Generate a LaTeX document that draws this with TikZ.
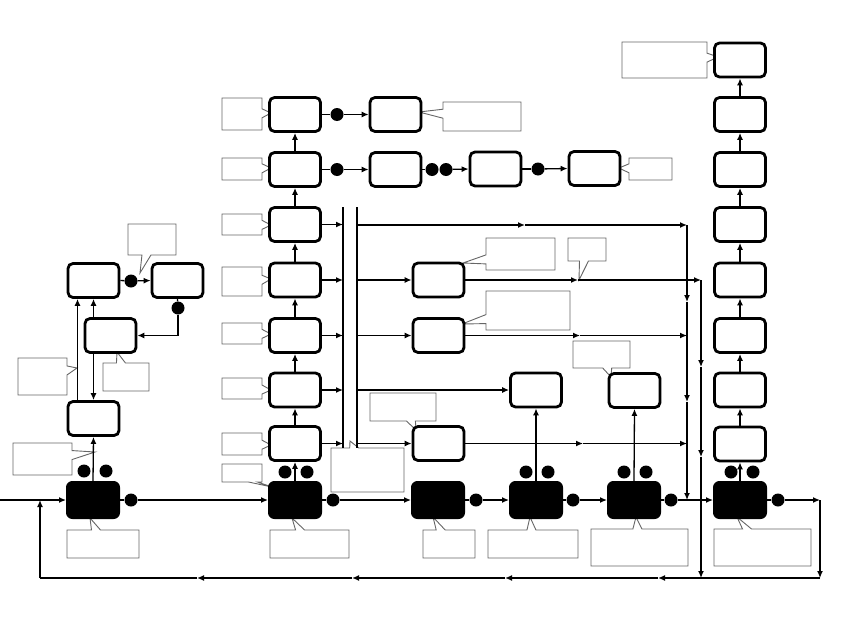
\documentclass[tikz,border=0pt]{standalone}
\usetikzlibrary{arrows.meta,shapes.callouts}
\begin{document}
\begin{tikzpicture}[x=1pt,y=-1pt,
 wbox/.style={draw, line width=2.8pt, rounded corners=5pt, fill=white, minimum width=51pt, minimum height=34pt, inner sep=0pt},
 bbox/.style={draw, line width=1pt, rounded corners=6pt, fill=black, minimum width=53pt, minimum height=37pt, inner sep=0pt},
 dot/.style={circle, fill=black, minimum size=13pt, inner sep=0pt},
 cl/.style={rectangle callout, draw=black!60, line width=0.9pt, fill=white, inner sep=0pt, callout pointer width=9pt},
 arr/.style={-{Latex[length=7pt,width=6pt]}, line width=1.3pt},
 ln/.style={line width=1.3pt}]
\useasboundingbox (0,0) rectangle (854,629);

% ---------- callouts ----------
\node[cl, minimum width=48pt, minimum height=31pt, callout absolute pointer={(140,273)}] (c1) at (152,239.5) {};
\node[cl, minimum width=49pt, minimum height=37pt, callout absolute pointer={(77,368)}] (c2) at (42.5,376.5) {};
\node[cl, minimum width=46pt, minimum height=28pt, callout absolute pointer={(117,352)}] (c3) at (126,377) {};
\node[cl, minimum width=59pt, minimum height=32pt, callout absolute pointer={(95,452)}] (c4) at (42.5,459) {};
\node[cl, minimum width=72pt, minimum height=28pt, callout absolute pointer={(90,518)}] (c5) at (103,544) {};
\node[cl, minimum width=40pt, minimum height=32pt, callout absolute pointer={(271,113)}] (cr1) at (242,114) {};
\node[cl, minimum width=40pt, minimum height=22pt, callout absolute pointer={(271,168)}] (cr2) at (242,169) {};
\node[cl, minimum width=40pt, minimum height=21pt, callout absolute pointer={(271,225)}] (cr3) at (242,224.5) {};
\node[cl, minimum width=40pt, minimum height=29pt, callout absolute pointer={(271,279)}] (cr4) at (242,281.5) {};
\node[cl, minimum width=40pt, minimum height=21pt, callout absolute pointer={(271,334)}] (cr5) at (242,333.5) {};
\node[cl, minimum width=40pt, minimum height=21pt, callout absolute pointer={(271,390)}] (cr6) at (242,388.5) {};
\node[cl, minimum width=40pt, minimum height=22pt, callout absolute pointer={(271,445)}] (cr7) at (242,444) {};
\node[cl, minimum width=40pt, minimum height=18pt, callout absolute pointer={(272,487)}] (cb2l) at (242,473) {};
\node[cl, minimum width=78pt, minimum height=29pt, callout absolute pointer={(419,112)}] (cr1b) at (482,116.5) {};
\node[cl, minimum width=43pt, minimum height=22pt, callout absolute pointer={(619,168)}] (cr2d) at (650.5,169) {};
\node[cl, minimum width=85pt, minimum height=36pt, callout absolute pointer={(718,57)}] (ct1) at (664.5,60) {};
\node[cl, minimum width=69pt, minimum height=32pt, callout absolute pointer={(463,263)}] (cm1) at (520.5,254) {};
\node[cl, minimum width=38pt, minimum height=23pt, callout absolute pointer={(579,280)}] (csm) at (587,249.5) {};
\node[cl, minimum width=84pt, minimum height=39pt, callout absolute pointer={(462,324)}] (cm2) at (528,310.5) {};
\node[cl, minimum width=57pt, minimum height=27pt, callout absolute pointer={(611,377)}] (cm4) at (601.5,354.5) {};
\node[cl, minimum width=66pt, minimum height=28pt, callout absolute pointer={(416,430)}] (cm5) at (403,407) {};
\node[cl, minimum width=73pt, minimum height=44pt, callout absolute pointer={(350,441)}] (cbus) at (367.5,470) {};
\node[cl, minimum width=79pt, minimum height=28pt, callout absolute pointer={(292,518)}] (cb2) at (309.5,544) {};
\node[cl, minimum width=52pt, minimum height=28pt, callout absolute pointer={(433,517)}] (cb3) at (449,544) {};
\node[cl, minimum width=90pt, minimum height=28pt, callout absolute pointer={(530,517)}] (cb4) at (533,544) {};
\node[cl, minimum width=97pt, minimum height=37pt, callout absolute pointer={(636,517)}] (cb5) at (639.5,547.5) {};
\node[cl, minimum width=97pt, minimum height=37pt, callout absolute pointer={(737,517)}] (cb6) at (762.5,547.5) {};

% ---------- boxes ----------
\node[wbox] (L1) at (93.5,280.5) {};
\node[wbox] (L2) at (177.5,280.5) {};
\node[wbox] (L3) at (110.5,335.5) {};
\node[wbox] (L4) at (93.5,418.5) {};
\node[bbox] (B1) at (93,500) {};

\node[wbox] (R1) at (295,114.5) {};
\node[wbox] (R2) at (295,169.5) {};
\node[wbox] (R3) at (295,224.5) {};
\node[wbox] (R4) at (295,280) {};
\node[wbox] (R5) at (295,335.5) {};
\node[wbox] (R6) at (295,390) {};
\node[wbox] (R7) at (295,443.5) {};
\node[bbox] (B2) at (295,500) {};

\node[wbox] (R1b) at (395.5,114.5) {};
\node[wbox] (R2b) at (395.5,169.5) {};
\node[wbox] (R2c) at (495.5,169) {};
\node[wbox] (R2d) at (594.5,168.5) {};

\node[wbox] (M1) at (438.5,280) {};
\node[wbox] (M2) at (438.5,335.5) {};
\node[wbox] (M3) at (536,390) {};
\node[wbox] (M4) at (634.5,390.5) {};
\node[wbox] (M5) at (438.5,443.5) {};
\node[bbox] (B3) at (438,500) {};
\node[bbox] (B4) at (536,500) {};
\node[bbox] (B5) at (634,500) {};

\node[wbox] (T1) at (740,60) {};
\node[wbox] (T2) at (740,114.5) {};
\node[wbox] (T3) at (740,169.5) {};
\node[wbox] (T4) at (740,224.5) {};
\node[wbox] (T5) at (740,280) {};
\node[wbox] (T6) at (740,335.5) {};
\node[wbox] (T7) at (740,390) {};
\node[wbox] (T8) at (740,444) {};
\node[bbox] (B6) at (740,500) {};

% ---------- dots ----------
\node[dot] (d1a) at (84,471) {};
\node[dot] (d1b) at (106,471) {};
\node[dot] (d1r) at (131,500) {};
\node[dot] (dL12) at (131,281) {};
\node[dot] (dL2) at (178,308) {};
\node[dot] (d2a) at (285,472) {};
\node[dot] (d2b) at (307,472) {};
\node[dot] (d2r) at (333,500) {};
\node[dot] (dR1) at (337,114.5) {};
\node[dot] (dR2) at (337,169.5) {};
\node[dot] (dR2b1) at (432,169.5) {};
\node[dot] (dR2b2) at (446,169.5) {};
\node[dot] (dR2c) at (538,169) {};
\node[dot] (d3r) at (476,500) {};
\node[dot] (d4a) at (526,472) {};
\node[dot] (d4b) at (548,472) {};
\node[dot] (d4r) at (573,500) {};
\node[dot] (d5a) at (624,472) {};
\node[dot] (d5b) at (646,472) {};
\node[dot] (d5r) at (671,500) {};
\node[dot] (d6a) at (731,472) {};
\node[dot] (d6b) at (753,472) {};
\node[dot] (d6r) at (778,500) {};

% ---------- coordinates ----------
\coordinate (in0) at (0,500);
\coordinate (busAt) at (343,207);
\coordinate (busAb) at (343,448);
\coordinate (busBt) at (357,207);
\coordinate (busBb) at (357,448);
\coordinate (h1a) at (357,225);
\coordinate (h1m) at (525,225);
\coordinate (vA0) at (687,225);
\coordinate (vA1) at (687,302);
\coordinate (vA2) at (687,402);
\coordinate (vA3) at (687,500);
\coordinate (vB0) at (701,280);
\coordinate (vB1) at (701,367);
\coordinate (vB2) at (701,457);
\coordinate (vB3) at (701,578);
\coordinate (p280m) at (578,280);
\coordinate (p335m) at (580,335.5);
\coordinate (p335e) at (687,335.5);
\coordinate (p444m) at (583,443.5);
\coordinate (p444e) at (687,443.5);
\coordinate (e1) at (820,500);
\coordinate (e2) at (820,578);
\coordinate (f1) at (658,578);
\coordinate (f2) at (505,578);
\coordinate (f3) at (352,578);
\coordinate (f4) at (197,578);
\coordinate (f5) at (40,578);
\coordinate (f6) at (40,500);

% ---------- left group ----------
\draw[arr] (B1.north) -- (L4.south);
\draw[arr] ([xshift=-16pt]L4.north) -- ([xshift=-16pt]L1.south);
\draw[arr] (L3.south -| L4.north) -- (L4.north);
\draw[arr] (L3.north -| L1.south) -- (L1.south);
\draw[ln] (L1.east) -- (dL12);
\draw[arr] (dL12) -- (L2.west);
\draw[ln] (L2.south) -- (dL2);
\draw[arr] (dL2) |- (L3.east);

% ---------- main line ----------
\draw[arr] (in0) -- (B1.west);
\draw[ln] (B1.east) -- (d1r);
\draw[arr] (d1r) -- (B2.west);
\draw[ln] (B2.east) -- (d2r);
\draw[arr] (d2r) -- (B3.west);
\draw[ln] (B3.east) -- (d3r);
\draw[arr] (d3r) -- (B4.west);
\draw[ln] (B4.east) -- (d4r);
\draw[arr] (d4r) -- (B5.west);
\draw[ln] (B5.east) -- (d5r);
\draw[arr] (d5r) -- (B6.west);
\draw[ln] (B6.east) -- (d6r);
\draw[arr] (d6r) -- (e1);
\draw[arr] (e1) -- (e2);
\draw[arr] (e2) -- (f1);
\draw[arr] (f1) -- (f2);
\draw[arr] (f2) -- (f3);
\draw[arr] (f3) -- (f4);
\draw[ln] (f4) -- (f5);
\draw[arr] (f5) -- (f6);

% ---------- column 2 ----------
\draw[arr] (B2.north) -- (R7.south);
\draw[arr] (R7.north) -- (R6.south);
\draw[arr] (R6.north) -- (R5.south);
\draw[arr] (R5.north) -- (R4.south);
\draw[arr] (R4.north) -- (R3.south);
\draw[arr] (R3.north) -- (R2.south);
\draw[arr] (R2.north) -- (R1.south);
\draw[ln] (R1.east) -- (dR1);
\draw[arr] (dR1) -- (R1b.west);
\draw[ln] (R2.east) -- (dR2);
\draw[arr] (dR2) -- (R2b.west);
\draw[ln] (R2b.east) -- (dR2b1);
\draw[arr] (dR2b2) -- (R2c.west);
\draw[ln] (R2c.east) -- (dR2c);
\draw[arr] (dR2c) -- (R2d.west);

% ---------- buses ----------
\draw[ln] (busAt) -- (busAb);
\draw[ln] (busBt) -- (busBb);
\draw[arr] (R3.east) -- (R3.east -| busAt);
\draw[arr] (R4.east) -- (R4.east -| busAt);
\draw[arr] (R5.east) -- (R5.east -| busAt);
\draw[arr] (R6.east) -- (R6.east -| busAt);
\draw[arr] (R7.east) -- (R7.east -| busAt);

\draw[arr] (h1a) -- (h1m);
\draw[arr] (h1m) -- (vA0);
\draw[arr] (vA0) -- (vA1);
\draw[arr] (vA1) -- (vA2);
\draw[arr] (vA2) -- (vA3);
\draw[arr] (vB0) -- (vB1);
\draw[arr] (vB1) -- (vB2);
\draw[arr] (vB2) -- (vB3);

\draw[arr] (M1.west -| busBt) -- (M1.west);
\draw[arr] (M1.east) -- (p280m);
\draw[arr] (p280m) -- (vB0);
\draw[arr] (M2.west -| busBt) -- (M2.west);
\draw[arr] (M2.east) -- (p335m);
\draw[arr] (p335m) -- (p335e);
\draw[arr] (M3.west -| busBt) -- (M3.west);
\draw[arr] (M5.west -| busBt) -- (M5.west);
\draw[arr] (M5.east) -- (p444m);
\draw[arr] (p444m) -- (p444e);

\draw[arr] (B4.north) -- (M3.south);
\draw[arr] (B5.north) -- (M4.south);

% ---------- right column ----------
\draw[arr] (B6.north) -- (T8.south);
\draw[arr] (T8.north) -- (T7.south);
\draw[arr] (T7.north) -- (T6.south);
\draw[arr] (T6.north) -- (T5.south);
\draw[arr] (T5.north) -- (T4.south);
\draw[arr] (T4.north) -- (T3.south);
\draw[arr] (T3.north) -- (T2.south);
\draw[arr] (T2.north) -- (T1.south);
\end{tikzpicture}
\end{document}
